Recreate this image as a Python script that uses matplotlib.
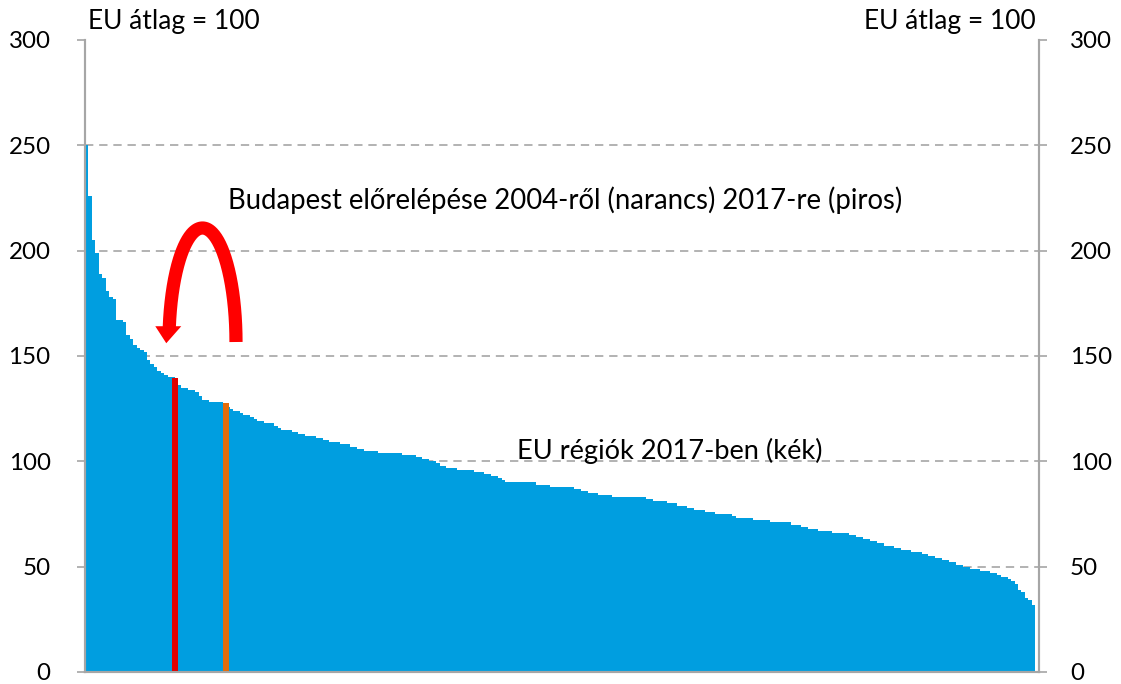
import numpy as np
import matplotlib
matplotlib.use('Agg')
import matplotlib.pyplot as plt

plt.rcParams['font.family'] = ['Lato', 'DejaVu Sans']

# EU regiok GDP/fo (EU atlag = 100), 2017, csokkeno sorrendben
regiok_2017 = [
    250, 226, 205, 199, 189, 187, 181, 178, 177, 167,
    167, 166, 160, 158, 155, 154, 153, 152, 148, 146,
    145, 143, 142, 141, 140, 140, 139, 136, 135, 135,
    134, 134, 133, 131, 129, 129, 128, 128, 128, 128,
    127, 126, 125, 124, 124, 123, 122, 122, 121, 120,
    119, 119, 118, 118, 118, 117, 116, 115, 115, 115,
    114, 114, 113, 113, 112, 112, 112, 111, 111, 110,
    110, 109, 109, 109, 108, 108, 108, 107, 107, 106,
    106, 105, 105, 105, 105, 104, 104, 104, 104, 104,
    104, 104, 103, 103, 103, 103, 102, 102, 101, 101,
    100, 100, 99, 98, 98, 97, 97, 97, 96, 96,
    96, 96, 96, 95, 95, 95, 94, 94, 93, 93,
    92, 91, 90, 90, 90, 90, 90, 90, 90, 90,
    90, 89, 89, 89, 89, 88, 88, 88, 88, 88,
    88, 88, 87, 87, 86, 86, 85, 85, 85, 84,
    84, 84, 84, 83, 83, 83, 83, 83, 83, 83,
    83, 83, 83, 82, 82, 81, 81, 81, 81, 80,
    80, 80, 79, 79, 79, 78, 78, 77, 77, 77,
    76, 76, 76, 75, 75, 75, 75, 75, 74, 73,
    73, 73, 73, 73, 72, 72, 72, 72, 72, 71,
    71, 71, 71, 71, 71, 70, 70, 70, 69, 69,
    68, 68, 68, 67, 67, 67, 67, 66, 66, 66,
    66, 66, 65, 65, 64, 64, 63, 63, 62, 62,
    61, 61, 60, 60, 60, 59, 59, 58, 58, 58,
    57, 57, 57, 56, 56, 55, 55, 54, 54, 53,
    53, 52, 52, 51, 51, 50, 50, 49, 49, 49,
    48, 48, 48, 47, 47, 46, 45, 45, 44, 43,
    42, 39, 38, 35, 34, 32,
]

# Budapest helye a rangsorban
bp_2017_hely = 25.5
bp_2017_ertek = 139.5
bp_2004_hely = 40.5
bp_2004_ertek = 127.5

yticks = [0, 50, 100, 150, 200, 250, 300]

W, H = 1121, 684
fig = plt.figure(figsize=(W / 100, H / 100), dpi=100)
ax = fig.add_axes([85 / W, 1 - 672 / H, (1039 - 85) / W, (672 - 40) / H])

n = len(regiok_2017)
x = np.arange(n)
ax.bar(x, regiok_2017, width=1.0, color='#009ee0', linewidth=0, zorder=2)
ax.bar([bp_2017_hely], [bp_2017_ertek], width=1.75, color='#e00000', linewidth=0, zorder=3)
ax.bar([bp_2004_hely], [bp_2004_ertek], width=1.65, color='#e46c0a', linewidth=0, zorder=3)

ax.set_xlim(-0.5, n + 0.6)
ax.set_ylim(0, 300)
ax.set_xticks([])
ax.set_yticks(yticks)
for v in yticks[1:-1]:
    ax.axhline(v, color='#a6a6a6', lw=1.2, ls=(0, (5, 3.5)), zorder=1)

ax2 = ax.twinx()
ax2.set_ylim(0, 300)
ax2.set_yticks(yticks)
ax.tick_params(axis='y', direction='out', length=5.8, width=1.2, color='#a6a6a6',
               labelsize=17.4, pad=19, left=True, right=False)
ax2.tick_params(axis='y', direction='out', length=5.8, width=1.2, color='#a6a6a6',
                labelsize=17.4, pad=16.5)
for a_ in (ax, ax2):
    for s in ['left', 'right', 'bottom']:
        a_.spines[s].set_color('#a6a6a6')
        a_.spines[s].set_linewidth(1.5)
    a_.spines['top'].set_visible(False)

fig.text(88 / W, 1 - 29 / H, 'EU átlag = 100', fontsize=19, ha='left', va='baseline')
fig.text(1036 / W, 1 - 29 / H, 'EU átlag = 100', fontsize=19, ha='right', va='baseline')
fig.text(228 / W, 1 - 209 / H, 'Budapest előrelépése 2004-ről (narancs) 2017-re (piros)',
         fontsize=19.8, ha='left', va='baseline')
fig.text(517 / W, 1 - 459 / H, 'EU régiók 2017-ben (kék)', fontsize=19.6, ha='left', va='baseline')

# ives piros nyil (pixelben szamolva)
t = np.linspace(0, np.pi - 0.13, 200)
cx, cy, a, b = 202.5, 342, 33.5, 114
px = cx + a * np.cos(t)
py = cy - b * np.sin(t)
fig.add_artist(plt.Line2D(px / W, 1 - py / H, transform=fig.transFigure,
                          color='#ff0000', lw=9.5, solid_capstyle='butt'))
lx, ly = px[-1], py[-1]
head = plt.Polygon([[(lx - 14) / W, 1 - (ly - 1) / H], [(lx + 12) / W, 1 - (ly - 1) / H],
                    [(lx - 3) / W, 1 - (ly + 16) / H]],
                   closed=True, transform=fig.transFigure, color='#ff0000', lw=0)
fig.add_artist(head)

fig.savefig('out.png', dpi=100)
